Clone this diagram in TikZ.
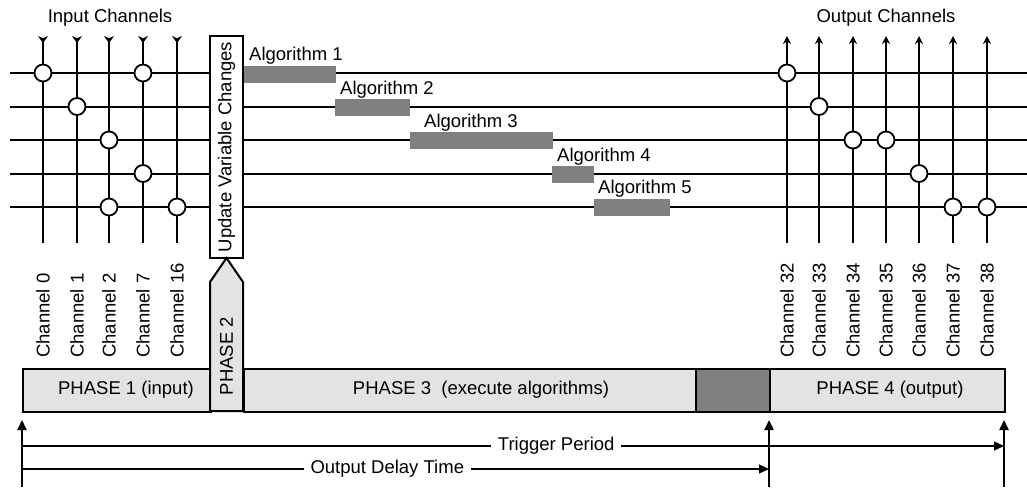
\documentclass[tikz,border=0pt]{standalone}
\usepackage{fontspec}
\setmainfont{Liberation Sans}
\usetikzlibrary{arrows.meta}
\definecolor{lightfill}{HTML}{E3E3E3}
\definecolor{darkfill}{HTML}{808080}
\begin{document}
\begin{tikzpicture}[x=1pt,y=-1pt,
  txt/.style={font=\fontsize{18.5}{21}\selectfont, inner sep=0pt},
  bus/.style={line width=2pt},
  wire/.style={line width=2pt},
  jn/.style={circle, draw, fill=white, line width=1.8pt, minimum size=17pt, inner sep=0pt},
  algbar/.style={fill=darkfill, draw=none, inner sep=0pt, minimum height=17pt, anchor=north west},
  phasebox/.style={draw, line width=2pt, fill=lightfill, inner sep=0pt, minimum height=43pt, anchor=north west},
  chlabel/.style={txt, rotate=90, anchor=west},
  timeline/.style={line width=1.2pt},
  bigtip/.style={-{Triangle[length=10pt,width=9pt]}},
]
\useasboundingbox (0,0) rectangle (1027,487);

% horizontal buses
\foreach \i/\y in {0/73,1/106.5,2/140,3/173.5,4/207}{
  \coordinate (hl\i) at (10,\y);
  \coordinate (hr\i) at (1027,\y);
  \draw[bus] (hl\i) -- (hr\i);
}

% input channel wires
\foreach \i/\x in {0/43,1/77,2/109,3/143,4/177}{
  \coordinate (it\i) at (\x,36);
  \coordinate (ib\i) at (\x,243);
  \draw[wire, {Stealth[reversed,length=7pt,width=10pt]}-] (it\i) -- (ib\i);
}
% output channel wires
\foreach \i/\x in {0/787,1/819,2/853,3/886,4/919,5/953,6/987}{
  \coordinate (ot\i) at (\x,36);
  \coordinate (ob\i) at (\x,243);
  \draw[wire, -{Stealth[length=8pt,width=8pt]}] (ob\i) -- (ot\i);
}

% junctions (input)
\node[jn] (j00) at (43,73) {};
\node[jn] (j01) at (143,73) {};
\node[jn] (j10) at (77,106.5) {};
\node[jn] (j20) at (109,140) {};
\node[jn] (j30) at (143,173.5) {};
\node[jn] (j40) at (109,207) {};
\node[jn] (j41) at (177,207) {};
% junctions (output)
\node[jn] (k00) at (787,73) {};
\node[jn] (k10) at (819,106.5) {};
\node[jn] (k20) at (853,140) {};
\node[jn] (k21) at (886,140) {};
\node[jn] (k30) at (919,173.5) {};
\node[jn] (k40) at (953,207) {};
\node[jn] (k41) at (987,207) {};

% top labels
\node[txt] (inlab) at (110,18) {Input Channels};
\node[txt] (outlab) at (886,18) {Output Channels};

% update box
\node[draw, fill=white, line width=2pt, minimum width=33pt, minimum height=222pt, inner sep=0pt] (upd) at (226.5,147) {};
\node[txt, rotate=90] (updt) at (226.5,147) {Update Variable Changes};

% algorithm bars
\node[algbar, minimum width=92pt] (a1) at (244,66) {};
\node[algbar, minimum width=75pt] (a2) at (335,99) {};
\node[algbar, minimum width=143pt] (a3) at (410,132) {};
\node[algbar, minimum width=42pt] (a4) at (552,166) {};
\node[algbar, minimum width=76pt] (a5) at (594,199) {};
\node[txt, anchor=base west] (a1t) at (249,60) {Algorithm 1};
\node[txt, anchor=base west] (a2t) at (340,94) {Algorithm 2};
\node[txt, anchor=base west] (a3t) at (424,127) {Algorithm 3};
\node[txt, anchor=base west] (a4t) at (557,161) {Algorithm 4};
\node[txt, anchor=base west] (a5t) at (598,193) {Algorithm 5};

% channel labels
\foreach \x/\n in {43/0,77/1,109/2,143/7,177/16}{
  \node[chlabel] (cin\n) at (\x,358) {Channel \n};
}
\foreach \x/\n in {787/32,819/33,853/34,886/35,919/36,953/37,987/38}{
  \node[chlabel] (cout\n) at (\x,358) {Channel \n};
}

% phase boxes
\node[phasebox, minimum width=188pt] (p1) at (22,368) {};
\node[txt] (p1t) at (126,389.5) {PHASE 1 (input)};
\node[phasebox, minimum width=452pt] (p3) at (243,368) {};
\node[txt] (p3t) at (481,389.5) {PHASE 3\ \ (execute algorithms)};
\node[phasebox, minimum width=74pt, fill=darkfill] (pd) at (695,368) {};
\node[phasebox, minimum width=235pt] (p4) at (769,368) {};
\node[txt] (p4t) at (890,389.5) {PHASE 4 (output)};

% phase 2 arrow shape
\draw[line width=2pt, fill=lightfill, line join=miter] (210,411) -- (210,282) -- (226.5,258) -- (243,282) -- (243,411) -- cycle;
\node[txt, rotate=90] (p2t) at (226.5,356) {PHASE 2};

% timing markers
\coordinate (m0b) at (22,487);   \coordinate (m0t) at (22,420);
\coordinate (m1b) at (769,487);  \coordinate (m1t) at (769,420);
\coordinate (m2b) at (1004,487); \coordinate (m2t) at (1004,420);
\draw[line width=2.3pt, bigtip] (m0b) -- (m0t);
\draw[line width=2.3pt, bigtip] (m1b) -- (m1t);
\draw[line width=2.3pt, bigtip] (m2b) -- (m2t);

\coordinate (tps) at (22,446); \coordinate (tpe) at (1004,446);
\coordinate (ods) at (22,469); \coordinate (ode) at (769,469);
\draw[timeline, bigtip] (tps) -- node[txt, pos=0.544, fill=white, inner xsep=7pt, inner ysep=1pt] (tpl) {Trigger Period} (tpe);
\draw[timeline, bigtip] (ods) -- node[txt, pos=0.489, fill=white, inner xsep=7pt, inner ysep=1pt] (odl) {Output Delay Time} (ode);
\end{tikzpicture}
\end{document}
